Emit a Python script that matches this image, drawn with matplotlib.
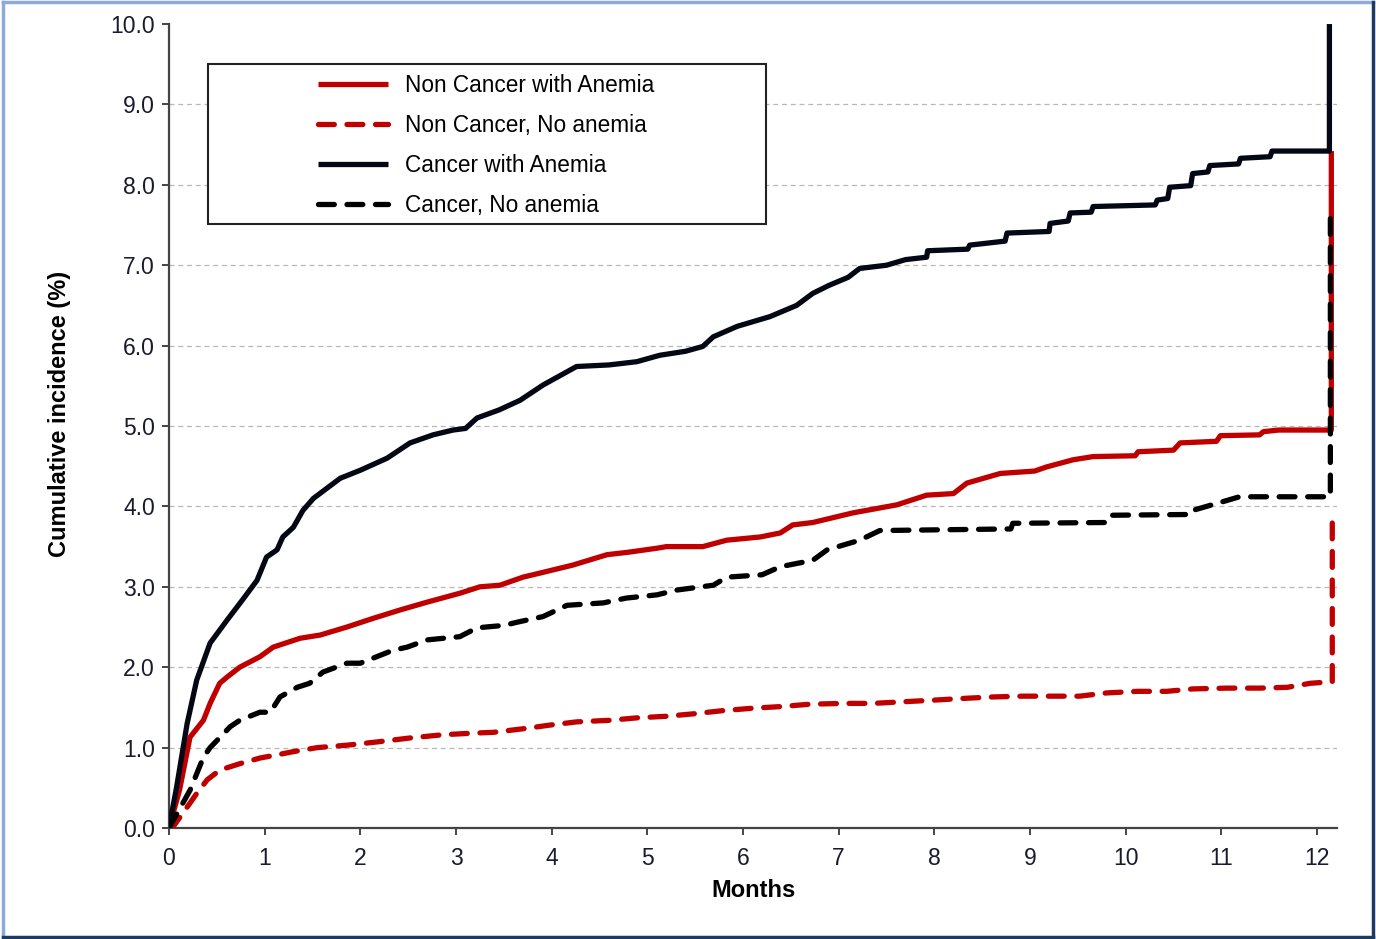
import matplotlib.pyplot as plt
from matplotlib.patches import Rectangle
from matplotlib.lines import Line2D

plt.rcParams['font.family'] = ['Liberation Sans', 'DejaVu Sans']

# cumulative incidence (%), month -> value
nca_t = [0, 0.11, 0.22, 0.36, 0.43, 0.53, 0.61, 0.74, 0.95, 1.09, 1.37, 1.58, 1.86, 2.14, 2.41, 2.7,
         3.04, 3.25, 3.46, 3.7, 3.91, 4.22, 4.58, 4.8, 5.1, 5.2, 5.58, 5.83, 6.18, 6.39, 6.52, 6.73,
         7.15, 7.61, 7.92, 8.2, 8.34, 8.69, 9.05, 9.17, 9.45, 9.66, 10.1, 10.13, 10.5, 10.57, 10.95,
         10.99, 11.4, 11.44, 11.6, 12.15, 12.15]
nca_v = [0, 0.47, 1.13, 1.34, 1.55, 1.8, 1.88, 2.0, 2.13, 2.25, 2.36, 2.4, 2.5, 2.61, 2.71, 2.81,
         2.92, 3.0, 3.02, 3.12, 3.18, 3.27, 3.4, 3.43, 3.48, 3.5, 3.5, 3.58, 3.62, 3.67, 3.77, 3.8,
         3.92, 4.02, 4.14, 4.16, 4.29, 4.41, 4.44, 4.49, 4.58, 4.62, 4.63, 4.68, 4.7, 4.79, 4.81,
         4.88, 4.89, 4.93, 4.95, 4.95, 8.42]

ncn_t = [0, 0.04, 0.22, 0.29, 0.4, 0.53, 0.74, 0.95, 1.13, 1.3, 1.55, 1.86, 2.17, 2.52, 2.86, 3.18,
         3.39, 3.74, 3.98, 4.26, 4.61, 4.89, 5.2, 5.48, 5.79, 6.1, 6.39, 6.7, 7.05, 7.36, 7.67, 7.99,
         8.27, 8.61, 8.93, 9.52, 9.8, 10.12, 10.43, 10.7, 11.06, 11.4, 11.69, 11.93, 12.16, 12.16]
ncn_v = [0, 0.01, 0.31, 0.43, 0.6, 0.72, 0.8, 0.87, 0.91, 0.95, 1.0, 1.03, 1.07, 1.12, 1.16, 1.18,
         1.19, 1.24, 1.28, 1.32, 1.34, 1.37, 1.39, 1.42, 1.46, 1.49, 1.51, 1.54, 1.55, 1.55, 1.57, 1.59,
         1.61, 1.63, 1.64, 1.64, 1.68, 1.7, 1.7, 1.73, 1.74, 1.74, 1.75, 1.8, 1.82, 3.8]

ca_t = [0, 0.08, 0.19, 0.29, 0.43, 0.61, 0.77, 0.92, 1.02, 1.13, 1.19, 1.3, 1.4, 1.51, 1.79, 2.0,
        2.28, 2.52, 2.76, 2.97, 3.1, 3.22, 3.45, 3.67, 3.91, 4.26, 4.6, 4.89, 5.13, 5.4, 5.58, 5.69,
        5.94, 6.28, 6.56, 6.73, 6.9, 7.1, 7.22, 7.5, 7.7, 7.92, 7.93, 8.35, 8.37, 8.74, 8.76, 9.2,
        9.21, 9.4, 9.42, 9.64, 9.66, 10.31, 10.33, 10.44, 10.46, 10.68, 10.7, 10.86, 10.88, 11.18,
        11.2, 11.51, 11.53, 12.13, 12.13]
ca_v = [0, 0.51, 1.3, 1.84, 2.3, 2.59, 2.84, 3.08, 3.37, 3.46, 3.62, 3.74, 3.95, 4.1, 4.35, 4.45,
        4.6, 4.79, 4.89, 4.95, 4.97, 5.1, 5.2, 5.32, 5.51, 5.74, 5.76, 5.8, 5.88, 5.93, 5.99, 6.11,
        6.24, 6.36, 6.5, 6.65, 6.75, 6.85, 6.96, 7.0, 7.07, 7.1, 7.18, 7.2, 7.25, 7.3, 7.4, 7.42,
        7.52, 7.55, 7.65, 7.66, 7.73, 7.75, 7.81, 7.83, 7.97, 7.99, 8.14, 8.16, 8.24, 8.26,
        8.33, 8.35, 8.42, 8.42, 10.0]

cn_t = [0, 0.22, 0.36, 0.43, 0.64, 0.74, 0.95, 1.06, 1.16, 1.34, 1.47, 1.61, 1.86, 2.0, 2.17, 2.34,
        2.49, 2.7, 3.04, 3.22, 3.5, 3.64, 3.91, 4.16, 4.54, 4.78, 5.1, 5.31, 5.69, 5.83, 6.2, 6.39,
        6.73, 6.88, 7.22, 7.43, 8.8, 8.82, 9.8, 9.84, 10.68, 10.7, 10.99, 11.19, 12.14, 12.14]
cn_v = [0, 0.47, 0.88, 1.0, 1.26, 1.34, 1.44, 1.44, 1.63, 1.75, 1.8, 1.94, 2.05, 2.05, 2.13, 2.21,
        2.25, 2.34, 2.38, 2.49, 2.52, 2.56, 2.63, 2.77, 2.8, 2.86, 2.9, 2.96, 3.02, 3.12, 3.15, 3.25,
        3.33, 3.46, 3.58, 3.7, 3.72, 3.79, 3.8, 3.89, 3.9, 3.95, 4.05, 4.12, 4.12, 7.7]

labels = ['Non Cancer with Anemia', 'Non Cancer, No anemia', 'Cancer with Anemia', 'Cancer, No anemia']
red = '#c00000'
blk = '#040814'

fig = plt.figure(figsize=(13.76, 9.39), dpi=100)
ax = fig.add_axes([0.1228, 0.1182, 0.8489, 0.8562])

lw = 3.8
dash = dict(dashes=(3.0, 2.4), dash_capstyle='round')
h1, = ax.plot(nca_t, nca_v, color=red, lw=lw, solid_capstyle='butt', label=labels[0], zorder=3)
h2, = ax.plot(ncn_t, ncn_v, color=red, lw=lw, label=labels[1], zorder=3, **dash)
h3, = ax.plot(ca_t, ca_v, color=blk, lw=lw, solid_capstyle='butt', label=labels[2], zorder=4)
h4, = ax.plot(cn_t, cn_v, color='black', lw=lw, label=labels[3], zorder=5, **dash)

ax.set_xlim(0, 12.21)
ax.set_ylim(0, 10)
ax.set_xticks(range(13))
ax.set_yticks([i for i in range(11)])
ax.set_yticklabels(['%.1f' % i for i in range(11)])
for y in range(1, 10):
    ax.axhline(y, color='#b8b8b8', lw=0.9, ls=(0, (4, 3)), zorder=1)

for s in ['top', 'right']:
    ax.spines[s].set_visible(False)
for s in ['left', 'bottom']:
    ax.spines[s].set_color('#444444')
    ax.spines[s].set_linewidth(1.6)
ax.tick_params(direction='out', length=5, width=1.4, color='#444444',
               labelsize=16.5, labelcolor='#1a1a2e')
ax.tick_params(axis='x', pad=9)
ax.tick_params(axis='y', pad=5)

ax.set_xlabel('Months', fontsize=17, fontweight='bold', labelpad=6)
ax.set_ylabel('Cumulative incidence (%)', fontsize=17, fontweight='bold')
ax.yaxis.set_label_coords(-0.084, 0.515)

# legend box
ax.add_patch(Rectangle((0.0334, 0.751), 0.4777, 0.199, transform=ax.transAxes,
                       facecolor='white', edgecolor='#222222', lw=1.5, zorder=6))
leg = ax.legend(handles=[h1, h2, h3, h4], loc='upper left', bbox_to_anchor=(0.128, 0.938),
                frameon=False, fontsize=16.3, handlelength=3.05, handletextpad=0.75,
                labelspacing=0.75, borderpad=0, borderaxespad=0)
leg.set_zorder(7)

# figure border
fig.add_artist(Line2D([0.002, 0.998], [0.998, 0.998], color='#8eaadb', lw=2.5, transform=fig.transFigure))
fig.add_artist(Line2D([0.002, 0.002], [0.002, 0.998], color='#8eaadb', lw=2.5, transform=fig.transFigure))
fig.add_artist(Line2D([0.002, 0.998], [0.002, 0.002], color='#1f3864', lw=2.5, transform=fig.transFigure))
fig.add_artist(Line2D([0.998, 0.998], [0.002, 0.998], color='#1f3864', lw=2.5, transform=fig.transFigure))

fig.savefig('out.png', dpi=100)
